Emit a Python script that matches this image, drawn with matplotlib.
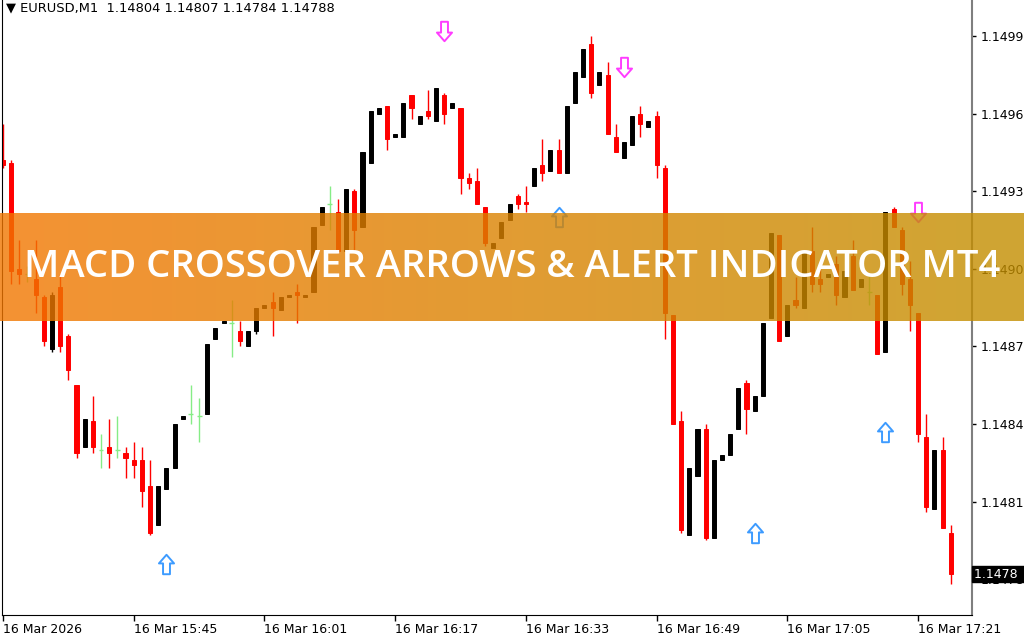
import numpy as np
import matplotlib.pyplot as plt
from matplotlib.path import Path
from matplotlib.transforms import blended_transform_factory

plt.rcParams['font.family'] = ['DejaVu Sans']

# EURUSD M1 candles, 16 Mar 15:29 .. 17:25
opens = [1.14948, 1.14947, 1.14906, 1.14904, 1.14902, 1.14895, 1.14875, 1.14899, 1.14880, 1.14861,
         1.14837, 1.14847, 1.14836, 1.14837, 1.14836, 1.14835, 1.14832, 1.14832, 1.14822, 1.14807,
         1.14821, 1.14829, 1.14848, 1.14850, 1.14849, 1.14850, 1.14879, 1.14885, 1.14885, 1.14882,
         1.14876, 1.14882, 1.14891, 1.14893, 1.14890, 1.14895, 1.14897, 1.14895, 1.14897, 1.14923,
         1.14931, 1.14928, 1.14913, 1.14936, 1.14922, 1.14947, 1.14966, 1.14969, 1.14957, 1.14957,
         1.14973, 1.14962, 1.14967, 1.14963, 1.14973, 1.14968, 1.14968, 1.14941, 1.14940, 1.14930,
         1.14914, 1.14918, 1.14925, 1.14934, 1.14932, 1.14938, 1.14946, 1.14944, 1.14952, 1.14943,
         1.14970, 1.14980, 1.14993, 1.14977, 1.14981, 1.14957, 1.14949, 1.14954, 1.14966, 1.14961,
         1.14965, 1.14945, 1.14888, 1.14847, 1.14803, 1.14826, 1.14844, 1.14802, 1.14832, 1.14834,
         1.14844, 1.14862, 1.14851, 1.14857, 1.14887, 1.14919, 1.14880, 1.14894, 1.14891, 1.14913,
         1.14902, 1.14903, 1.14908, 1.14895, 1.14911, 1.14899, 1.14897, 1.14896, 1.14874, 1.14929,
         1.14921, 1.14902, 1.14889, 1.14841, 1.14813, 1.14836, 1.14804]
highs = [1.14962, 1.14948, 1.14917, 1.14907, 1.14917, 1.14896, 1.14897, 1.14904, 1.14881, 1.14861,
         1.14848, 1.14857, 1.14842, 1.14848, 1.14849, 1.14837, 1.14839, 1.14837, 1.14832, 1.14822,
         1.14829, 1.14846, 1.14849, 1.14861, 1.14856, 1.14877, 1.14883, 1.14886, 1.14894, 1.14886,
         1.14882, 1.14891, 1.14892, 1.14897, 1.14895, 1.14896, 1.14900, 1.14896, 1.14922, 1.14930,
         1.14938, 1.14933, 1.14937, 1.14937, 1.14951, 1.14967, 1.14968, 1.14969, 1.14958, 1.14970,
         1.14973, 1.14965, 1.14975, 1.14976, 1.14974, 1.14970, 1.14968, 1.14943, 1.14945, 1.14930,
         1.14916, 1.14924, 1.14931, 1.14935, 1.14938, 1.14945, 1.14956, 1.14952, 1.14956, 1.14969,
         1.14982, 1.14991, 1.14996, 1.14982, 1.14986, 1.14962, 1.14955, 1.14965, 1.14969, 1.14963,
         1.14967, 1.14946, 1.14888, 1.14851, 1.14829, 1.14844, 1.14846, 1.14832, 1.14834, 1.14842,
         1.14860, 1.14863, 1.14857, 1.14885, 1.14920, 1.14919, 1.14892, 1.14903, 1.14913, 1.14922,
         1.14906, 1.14904, 1.14911, 1.14905, 1.14917, 1.14902, 1.14904, 1.14896, 1.14928, 1.14930,
         1.14922, 1.14909, 1.14889, 1.14850, 1.14836, 1.14841, 1.14807]
lows = [1.14945, 1.14900, 1.14900, 1.14901, 1.14889, 1.14876, 1.14874, 1.14874, 1.14863, 1.14833,
        1.14837, 1.14835, 1.14829, 1.14829, 1.14833, 1.14825, 1.14825, 1.14814, 1.14803, 1.14807,
        1.14821, 1.14829, 1.14848, 1.14846, 1.14839, 1.14850, 1.14879, 1.14885, 1.14872, 1.14876,
        1.14876, 1.14881, 1.14891, 1.14880, 1.14890, 1.14895, 1.14885, 1.14895, 1.14897, 1.14923,
        1.14921, 1.14912, 1.14913, 1.14913, 1.14922, 1.14947, 1.14966, 1.14952, 1.14957, 1.14957,
        1.14964, 1.14962, 1.14964, 1.14963, 1.14962, 1.14968, 1.14935, 1.14937, 1.14931, 1.14915,
        1.14914, 1.14918, 1.14925, 1.14929, 1.14928, 1.14938, 1.14940, 1.14944, 1.14943, 1.14943,
        1.14970, 1.14980, 1.14972, 1.14977, 1.14958, 1.14951, 1.14949, 1.14954, 1.14957, 1.14961,
        1.14941, 1.14879, 1.14846, 1.14804, 1.14803, 1.14826, 1.14801, 1.14802, 1.14832, 1.14834,
        1.14844, 1.14842, 1.14851, 1.14857, 1.14887, 1.14878, 1.14880, 1.14891, 1.14891, 1.14897,
        1.14897, 1.14903, 1.14892, 1.14895, 1.14898, 1.14899, 1.14892, 1.14873, 1.14874, 1.14922,
        1.14896, 1.14882, 1.14839, 1.14812, 1.14813, 1.14806, 1.14784]
closes = [1.14946, 1.14905, 1.14904, 1.14904, 1.14896, 1.14878, 1.14896, 1.14876, 1.14867, 1.14835,
          1.14848, 1.14837, 1.14836, 1.14835, 1.14836, 1.14833, 1.14830, 1.14820, 1.14804, 1.14822,
          1.14829, 1.14846, 1.14849, 1.14850, 1.14849, 1.14877, 1.14883, 1.14886, 1.14885, 1.14878,
          1.14882, 1.14891, 1.14892, 1.14891, 1.14895, 1.14896, 1.14896, 1.14896, 1.14922, 1.14930,
          1.14931, 1.14913, 1.14937, 1.14921, 1.14951, 1.14967, 1.14968, 1.14956, 1.14958, 1.14970,
          1.14968, 1.14965, 1.14965, 1.14976, 1.14966, 1.14970, 1.14941, 1.14939, 1.14931, 1.14916,
          1.14916, 1.14924, 1.14931, 1.14931, 1.14931, 1.14945, 1.14943, 1.14952, 1.14943, 1.14969,
          1.14982, 1.14991, 1.14974, 1.14982, 1.14958, 1.14951, 1.14955, 1.14965, 1.14962, 1.14963,
          1.14946, 1.14889, 1.14846, 1.14805, 1.14829, 1.14844, 1.14802, 1.14832, 1.14834, 1.14842,
          1.14860, 1.14852, 1.14857, 1.14885, 1.14920, 1.14878, 1.14892, 1.14892, 1.14913, 1.14900,
          1.14900, 1.14904, 1.14896, 1.14905, 1.14898, 1.14902, 1.14897, 1.14873, 1.14928, 1.14922,
          1.14900, 1.14892, 1.14842, 1.14814, 1.14836, 1.14806, 1.14788]

# MACD crossover arrows (bar index, price)
up_idx = [20, 68, 92, 108]
up_price = [1.14792, 1.14926, 1.14804, 1.14843]
down_idx = [54, 76, 112]
down_price = [1.14998, 1.14984, 1.14928]

xtick_idx = [0, 16, 32, 48, 64, 80, 96, 112]
xtick_labels = ['16 Mar 2026', '16 Mar 15:45', '16 Mar 16:01', '16 Mar 16:17',
                '16 Mar 16:33', '16 Mar 16:49', '16 Mar 17:05', '16 Mar 17:21']
ytick_vals = [1.14996, 1.14966, 1.14936, 1.14906, 1.14876, 1.14846, 1.14816, 1.14786]
ytick_labels = ['1.1499', '1.1496', '1.1493', '1.1490', '1.1487', '1.1484', '1.1481', '1.1478']

title = '\u25bc EURUSD,M1  1.14804 1.14807 1.14784 1.14788'
banner_text = 'MACD CROSSOVER ARROWS & ALERT INDICATOR MT4'

fig = plt.figure(figsize=(10.24, 6.4), dpi=100)
ax = fig.add_axes([2/1024, 25/640, 970/1024, 615/640])

o = np.array(opens); h = np.array(highs); l = np.array(lows); c = np.array(closes)
x = np.arange(len(o))
up = c > o
dn = c < o
dj = c == o
doji_col = '#86ec86'

ax.vlines(x[up], l[up], h[up], color='black', lw=1)
ax.vlines(x[dn], l[dn], h[dn], color='red', lw=1)
ax.vlines(x[dj], l[dj], h[dj], color=doji_col, lw=1)
ax.bar(x[up], (c - o)[up], 0.5, bottom=o[up], color='black', edgecolor='black', lw=0.7)
ax.bar(x[dn], (c - o)[dn], 0.5, bottom=o[dn], color='red', edgecolor='red', lw=0.7)
ax.hlines(o[dj], x[dj] - 0.3, x[dj] + 0.3, color=doji_col, lw=1)

# hollow arrow markers
arrow_up = Path([(0, 9), (7, 1), (3.2, 1), (3.2, -9), (-3.2, -9), (-3.2, 1), (-7, 1), (0, 9)],
                [Path.MOVETO] + [Path.LINETO] * 6 + [Path.CLOSEPOLY])
arrow_dn = Path([(0, -9), (7, -1), (3.2, -1), (3.2, 9), (-3.2, 9), (-3.2, -1), (-7, -1), (0, -9)],
                [Path.MOVETO] + [Path.LINETO] * 6 + [Path.CLOSEPOLY])
ax.plot(up_idx, up_price, ls='none', marker=arrow_up, markersize=14,
        mfc='white', mec='#3d9bff', mew=1.4)
ax.plot(down_idx, down_price, ls='none', marker=arrow_dn, markersize=14,
        mfc='white', mec='#ff3cff', mew=1.4)

ax.set_xlim(-0.12, 118.6)
ax.set_ylim(1.147722, 1.150099)

ax.yaxis.tick_right()
ax.set_yticks(ytick_vals)
ax.set_yticklabels(ytick_labels)
ax.set_xticks(xtick_idx)
ax.set_xticklabels(xtick_labels)
for lbl in ax.get_xticklabels():
    lbl.set_ha('left')
ax.tick_params(axis='y', length=3, width=1, labelsize=9, pad=3)
ax.tick_params(axis='x', length=4, width=1, labelsize=9, pad=2)

ax.spines['top'].set_visible(False)
ax.spines['right'].set_color('#7f7f7f')
ax.spines['right'].set_linewidth(1.5)

# current price box
trans = blended_transform_factory(ax.transAxes, ax.transData)
ax.text(1.002, c[-1], '1.1478  ', transform=trans, color='white', fontsize=9,
        va='center', ha='left', clip_on=False, zorder=5,
        bbox=dict(boxstyle='square,pad=0.15', fc='black', ec='black'))

fig.text(6/1024, 1 - 8/640, title, fontsize=9.4, va='center', ha='left')

# orange banner
bax = fig.add_axes([0, (640 - 321)/640, 1, 108/640])
bax.axis('off')
left_col = np.array([242, 119, 0]) / 255
right_col = np.array([195, 143, 0]) / 255
t = np.linspace(0, 1, 256)[:, None]
grad = left_col * (1 - t) + right_col * t
img = np.concatenate([grad, np.full((256, 1), 0.8)], axis=1)[None, :, :]
bax.imshow(img, extent=[0, 1, 0, 1], aspect='auto')
bax.set_xlim(0, 1)
bax.set_ylim(0, 1)
txt = bax.text(0.5, 0.5, banner_text, color='white', fontsize=28,
               fontfamily='Open Sans', fontweight='semibold', ha='center', va='center')
fig.canvas.draw()
w = txt.get_window_extent().width
txt.set_fontsize(28 * 975 / w)

fig.savefig('out.png', dpi=100)
